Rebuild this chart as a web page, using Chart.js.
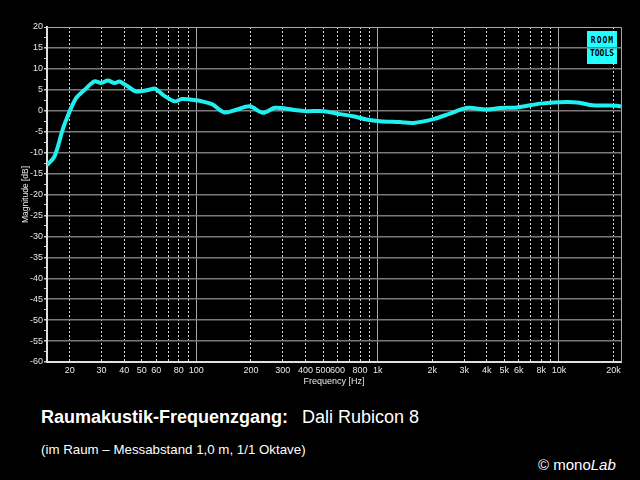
<!DOCTYPE html>
<html>
<head>
<meta charset="utf-8">
<script src="https://cdn.jsdelivr.net/npm/chart.js@4"></script>
<style>
  html, body { margin: 0; padding: 0; background: #000; }
  #wrap { position: relative; width: 640px; height: 480px; background: #000; overflow: hidden;
          font-family: "Liberation Sans", Arial, sans-serif; color: #fff; }
  #chartBox { position: absolute; left: 0; top: 0; width: 640px; height: 400px; z-index: 2; }
  #logo { position: absolute; left: 587px; top: 31px; width: 30px; height: 33px; background: #2ff; z-index: 1;
          color: #000; font: bold 8px "DejaVu Sans Mono", monospace; text-align: center; }
  #logo .l1 { position: absolute; left: 0; right: 0; top: 5px; letter-spacing: 1px; text-indent: 1px; }
  #logo .bar { position: absolute; left: 2px; right: 2px; top: 16px; height: 1px; background: #000; }
  #logo .l2 { position: absolute; left: 0; right: 0; top: 18px; letter-spacing: 0px; }
  .txt { position: absolute; white-space: nowrap; }
  #t1 { left: 41px; top: 408px; font-size: 18px; line-height: 18px; font-weight: bold; }
  #t2 { left: 302px; top: 408px; font-size: 18px; line-height: 18px; }
  #t3 { left: 41px; top: 443px; font-size: 13.3px; line-height: 13px; }
  #t4 { left: 538px; top: 457px; font-size: 15px; line-height: 15px; }
</style>
</head>
<body>
<div id="wrap">
  <div id="logo"><div class="l1">ROOM</div><div class="bar"></div><div class="l2">TOOLS</div></div>
  <div id="chartBox"><canvas id="freqChart" width="640" height="400"></canvas></div>
  <div class="txt" id="t1">Raumakustik-Frequenzgang:</div>
  <div class="txt" id="t2">Dali Rubicon 8</div>
  <div class="txt" id="t3">(im Raum – Messabstand 1,0 m, 1/1 Oktave)</div>
  <div class="txt" id="t4">© mono<i>Lab</i></div>
</div>
<script>
const freqHz = [15, 16.5, 18.3, 19.5, 21.7, 24.2, 27.4, 29.9, 32.5, 35.4, 37.7, 42, 46.6, 55, 59, 65.4,
  76, 83, 100, 113, 123, 143, 166, 197, 233, 271, 314, 357, 405, 501, 619, 731, 870, 1030, 1325,
  1574, 2030, 2502, 3088, 4000, 4730, 5860, 7870, 11000, 13000, 15400, 20900, 22000];
const magDb = [-13.0, -10.9, -4.5, -1.3, 3.0, 5.0, 7.0, 6.6, 7.2, 6.6, 7.0, 5.8, 4.6, 5.0, 5.3, 3.8,
  2.25, 2.8, 2.5, 2.0, 1.5, -0.4, 0.25, 1.05, -0.5, 0.7, 0.5, 0.1, -0.1, -0.1, -0.8, -1.3, -2.1, -2.5, -2.7,
  -2.9, -2.0, -0.7, 0.67, 0.3, 0.67, 0.8, 1.7, 2.1, 1.9, 1.3, 1.2, 1.0];

// x grid lines and which of them get a label
const gridFreqs = [20, 30, 40, 50, 60, 70, 80, 90, 100, 200, 300, 400, 500, 600, 700, 800, 900,
  1000, 2000, 3000, 4000, 5000, 6000, 7000, 8000, 9000, 10000, 20000];
const freqLabels = { 20: '20', 30: '30', 40: '40', 50: '50', 60: '60', 80: '80', 100: '100',
  200: '200', 300: '300', 400: '400', 500: '500', 600: '600', 800: '800', 1000: '1k',
  2000: '2k', 3000: '3k', 4000: '4k', 5000: '5k', 6000: '6k', 8000: '8k', 10000: '10k', 20000: '20k' };
const decades = [100, 1000, 10000];

const tickFont = { family: '"Liberation Sans", Arial, sans-serif', size: 9 };

// frame around plot area
const framePlugin = {
  id: 'frame',
  afterDraw(chart) {
    const a = chart.chartArea, c = chart.ctx;
    c.save();
    c.strokeStyle = '#a8a8a8';
    c.lineWidth = 1;
    c.beginPath();
    c.moveTo(a.left, a.top + 0.5);
    c.lineTo(a.right + 0.5, a.top + 0.5);
    c.lineTo(a.right + 0.5, a.bottom);
    c.stroke();
    c.restore();
  }
};

const ctx = document.getElementById('freqChart');
new Chart(ctx, {
  type: 'line',
  data: {
    datasets: [{
      data: freqHz.map((f, i) => ({ x: f, y: magDb[i] })),
      borderColor: '#1ef0f0',
      borderWidth: 4,
      pointRadius: 0,
      tension: 0.3,
      fill: false
    }]
  },
  options: {
    responsive: false,
    animation: false,
    devicePixelRatio: 1,
    layout: { padding: { left: 20, top: 27, right: 19, bottom: 13 } },
    plugins: { legend: { display: false }, tooltip: { enabled: false } },
    scales: {
      x: {
        type: 'logarithmic',
        min: 15,
        max: 22000,
        afterBuildTicks: s => { s.ticks = gridFreqs.map(v => ({ value: v })); },
        afterFit: s => { s.height = 25; },
        ticks: {
          autoSkip: false, maxRotation: 0, padding: 3,
          color: '#e8e8e8', font: tickFont,
          callback: v => freqLabels[v] || ''
        },
        grid: {
          drawTicks: false,
          color: c => c.tick && decades.includes(c.tick.value) ? '#a8a8a8' : '#d8d8d8',
          lineWidth: 1
        },
        border: {
          color: '#e0e0e0', width: 2,
          dash: c => (c.tick && !decades.includes(c.tick.value)) ? [2, 2] : []
        },
        title: {
          display: true, text: 'Frequency [Hz]', color: '#e8e8e8',
          font: tickFont, padding: 0
        }
      },
      y: {
        min: -60,
        max: 20,
        afterFit: s => { s.width = 27; },
        ticks: {
          stepSize: 2.5, autoSkip: false, padding: 1, color: '#e8e8e8', font: tickFont,
          callback: v => (v % 5 === 0 ? v : '')
        },
        grid: {
          tickLength: 3,
          tickColor: '#c8c8c8',
          color: c => {
            if (!c.tick || c.tick.value % 5 !== 0) return 'rgba(0,0,0,0)';
            return c.tick.value === 20 ? '#a8a8a8' : '#7a7a7a';
          },
          lineWidth: c => (c.tick && c.tick.value % 5 === 0 && c.tick.value !== 20 ? 1.5 : 1)
        },
        border: { color: '#e0e0e0', width: 2 },
        title: {
          display: true, text: 'Magnitude [dB]', color: '#e8e8e8',
          font: { family: '"Liberation Sans", Arial, sans-serif', size: 8.5 }, padding: 1
        }
      }
    }
  },
  plugins: [framePlugin]
});
</script>
</body>
</html>
